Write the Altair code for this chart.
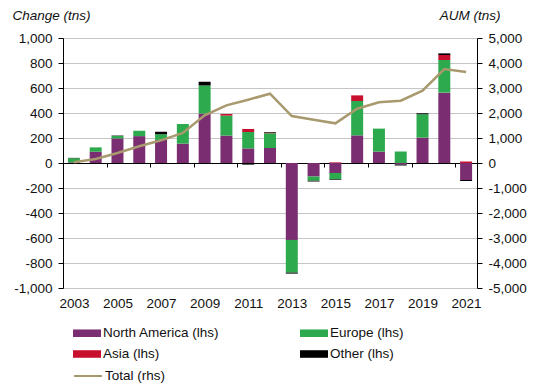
import altair as alt
import pandas as pd

years = list(range(2003, 2022))
series = ["North America (lhs)", "Europe (lhs)", "Asia (lhs)", "Other (lhs)"]
colors = ["#7B2D72", "#2DAA4E", "#C8102E", "#000000"]

north_america = [5, 90, 197, 215, 185, 155, 395, 219, 117, 120, -615, -108, -80, 221, 91, -12, 203, 563, -136]
europe = [33, 35, 20, 43, 45, 157, 225, 160, 131, 118, -262, -34, -50, 275, 184, 92, 187, 261, 0]
asia = [0, 0, 0, 0, 0, 0, 0, 13, 24, 5, 0, 0, 5, 45, 0, 0, 0, 40, 12]
other = [3, 0, 3, 0, 20, 0, 30, 0, -13, 5, -8, -6, -5, 0, 0, -8, 8, 13, -8]
total_aum = [30, 160, 400, 667, 907, 1200, 1907, 2307, 2533, 2773, 1880, 1733, 1587, 2173, 2427, 2493, 2893, 3760, 3640]

label_years = list(range(2003, 2022, 2))
left_ticks = list(range(-1000, 1001, 200))
right_ticks = list(range(-5000, 5001, 1000))

rows = []
for i, y in enumerate(years):
    for k, (name, vals) in enumerate(zip(series, [north_america, europe, asia, other])):
        rows.append({"year": y, "series": name, "value": vals[i], "idx": k})
df_bars = pd.DataFrame(rows)
df_line = pd.DataFrame({"year": years, "total": total_aum, "name": ["Total (rhs)"] * len(years)})

FONT = "Liberation Sans"
FS = 13.5
W, H = 414, 250
half_step = W / len(years) / 2

xscale = alt.Scale(paddingInner=0.45, paddingOuter=0.225)
minus_fix = "replace(format(datum.value, ','), '\u2212', '-')"

bars = alt.Chart(df_bars).mark_bar().encode(
    x=alt.X("year:O", scale=xscale, axis=alt.Axis(
        orient="bottom", offset=-H / 2, values=label_years, title=None,
        domainColor="black", domainWidth=1, tickColor="black", tickSize=4,
        bandPosition=0.5, tickOffset=-half_step, labelOffset=half_step,
        labelPadding=129, labelAngle=0, grid=False)),
    y=alt.Y("value:Q", stack="zero", scale=alt.Scale(domain=[-1000, 1000], nice=False),
            axis=alt.Axis(values=left_ticks, labelExpr=minus_fix, grid=True, gridDash=[1, 1],
                          gridColor="#8a8a8a", tickSize=5, tickColor="black", domainColor="black",
                          labelPadding=6, title="Change (tns)", titleAngle=0, titleAlign="left",
                          titleBaseline="alphabetic", titleX=-51, titleY=-19,
                          titleFontStyle="italic", titleFontWeight="normal")),
    color=alt.Color("series:N", scale=alt.Scale(domain=series, range=colors),
                    legend=alt.Legend(orient="none", legendX=10, legendY=281, columns=2,
                                      direction="horizontal",
                                      columnPadding=80, rowPadding=0, title=None,
                                      symbolType="M-1,-0.27H1V0.27H-1Z", symbolSize=784,
                                      symbolStrokeWidth=0, labelOffset=2)),
    order=alt.Order("idx:Q"),
)

line = alt.Chart(df_line).mark_line(strokeWidth=2.5).encode(
    x=alt.X("year:O", scale=xscale),
    y=alt.Y("total:Q", scale=alt.Scale(domain=[-5000, 5000], nice=False),
            axis=alt.Axis(orient="right", values=right_ticks, labelExpr=minus_fix, grid=False,
                          tickSize=5, tickColor="black", domainColor="black", labelPadding=6,
                          title="AUM (tns)", titleAngle=0, titleAlign="right",
                          titleBaseline="alphabetic", titleX=23, titleY=-19,
                          titleFontStyle="italic", titleFontWeight="normal")),
    stroke=alt.Stroke("name:N", scale=alt.Scale(range=["#A8996E"]),
                      legend=alt.Legend(orient="none", legendX=10, legendY=323, title=None,
                                        symbolType="stroke", symbolSize=784,
                                        symbolStrokeWidth=2, labelOffset=2)),
)

chart = alt.layer(bars, line).resolve_scale(y="independent").properties(
    width=W, height=H,
    autosize=alt.AutoSizeParams(type="none"),
    padding={"left": 55, "top": 30, "right": 62, "bottom": 100},
).configure(font=FONT).configure_view(stroke=None).configure_axis(
    labelFont=FONT, labelFontSize=FS, labelColor="#111", titleFont=FONT, titleFontSize=FS,
    titleColor="#111"
).configure_legend(labelFont=FONT, labelFontSize=FS, labelColor="#111", labelLimit=300)

chart.save("out.html", embed_options={"renderer": "svg", "actions": False})
